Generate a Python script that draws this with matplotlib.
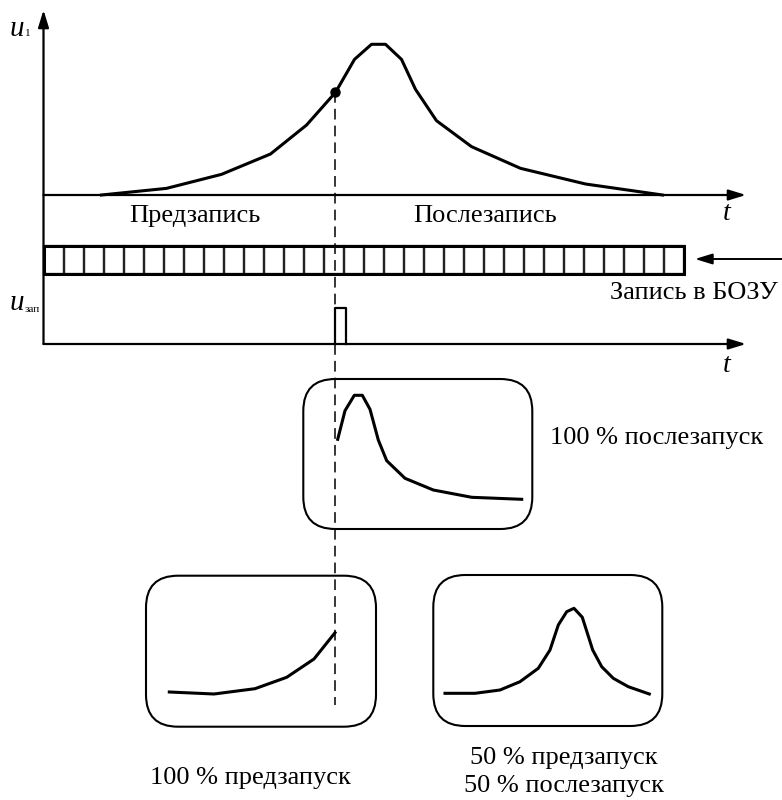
import matplotlib
matplotlib.use("Agg")
import matplotlib.pyplot as plt
from matplotlib.patches import FancyBboxPatch, Rectangle
from matplotlib.transforms import Affine2D

# ---------------- data ----------------
# main signal u1(t): t in px-units from axis origin, u normalised to peak
main_t = [58, 123, 178, 227, 263, 292, 311, 328, 342, 358, 372, 393, 428, 477, 542, 619]
main_u = [0.0, 0.044, 0.137, 0.272, 0.464, 0.681, 0.900, 1.0, 1.0, 0.900, 0.701, 0.493, 0.321, 0.177, 0.073, 0.0]
trigger_t = 291.5
trigger_u = 0.681
pulse_t = [291.5, 291.5, 302, 302]
pulse_u = [0, 1, 1, 0]
n_cells = 32

# screen panels: x from box left, y from box bottom (px units)
post_x = [34.4, 41.7, 51, 59, 66.7, 75, 83.4, 101.7, 130, 168.4, 218.4]
post_y = [89.7, 118.3, 133.7, 133.7, 119.7, 89, 68.3, 50.7, 39, 31.7, 29.7]
pre_x = [23.3, 68, 109, 140.7, 168, 189]
pre_y = [34.7, 32.7, 38, 49.4, 67.7, 94]
mid_x = [11.7, 41.7, 66.7, 86.7, 105, 116.7, 125, 133.4, 140.7, 149, 159.4, 168.4, 180, 195, 216]
mid_y = [32.7, 32.7, 36, 44.3, 57.7, 76, 101, 114.3, 117.7, 108.7, 76, 59.3, 47.7, 39.3, 32]

labels = {
    "pre_rec": "Предзапись",
    "post_rec": "Послезапись",
    "bozu": "Запись в БОЗУ",
    "post": "100 % послезапуск",
    "pre": "100 % предзапуск",
    "mid": "50 % предзапуск\n50 % послезапуск",
}

# ---------------- figure ----------------
plt.rcParams['font.family'] = ['Liberation Serif', 'DejaVu Serif']
fig = plt.figure(figsize=(7.82, 8.0), dpi=100)
ax = fig.add_axes([0, 0, 1, 1])
ax.set_xlim(0, 782)
ax.set_ylim(800, 0)
ax.axis('off')

FS = 19
X0 = 43.5
Y1 = 195
Y2 = 344
XEND = 746

def arrow(x0, y0, x1, y1, lw=1.6):
    ax.annotate('', xy=(x1, y1), xytext=(x0, y0),
                arrowprops=dict(arrowstyle='-|>,head_length=0.65,head_width=0.2',
                                mutation_scale=16, lw=lw, color='k',
                                shrinkA=0, shrinkB=0))

# axes
arrow(X0, Y2, X0, 10)
arrow(X0, Y1, XEND, Y1)
arrow(X0, Y2, XEND, Y2)

# main curve
main_tr = Affine2D().scale(1, -150.7).translate(X0, Y1) + ax.transData
ax.plot(main_t, main_u, color='k', lw=2.2, transform=main_tr)
ax.plot([trigger_t], [trigger_u], 'o', color='k', ms=6.5, transform=main_tr)

# pulse
pulse_tr = Affine2D().scale(1, -36).translate(X0, Y2) + ax.transData
ax.plot(pulse_t, pulse_u, color='k', lw=1.6, transform=pulse_tr)

# buffer cells
bx0, by0, cw, ch = 43.5, 246, 20, 28
for i in range(n_cells):
    ax.add_patch(Rectangle((bx0 + i * cw, by0), cw, ch, fill=False, ec='#222222', lw=1.6))
ax.add_patch(Rectangle((bx0, by0), n_cells * cw, ch, fill=False, ec='k', lw=2.2))
arrow(790, 259, 695, 259, lw=1.4)

# dashed trigger line
ax.plot([X0 + trigger_t, X0 + trigger_t], [Y1 - 150.7 * trigger_u, 705], color='k',
        lw=1.1, dashes=(7, 4))

# panels
def panel(left, top, w, h, xs, ys):
    ax.add_patch(FancyBboxPatch((left, top), w, h,
                                boxstyle='round,pad=0,rounding_size=32',
                                fill=False, ec='k', lw=1.5))
    tr = Affine2D().scale(1, -1).translate(left, top + h) + ax.transData
    ax.plot(xs, ys, color='k', lw=2.2, transform=tr)

panel(303.3, 379, 229, 150, post_x, post_y)
panel(146, 575.7, 230, 151, pre_x, pre_y)
panel(433.3, 575, 229, 151, mid_x, mid_y)

# texts
ax.text(195, 216, labels["pre_rec"], fontsize=FS, ha='center', va='center')
ax.text(485, 216, labels["post_rec"], fontsize=FS, ha='center', va='center')
ax.text(778, 293, labels["bozu"], fontsize=FS, ha='right', va='center')
ax.text(657, 438, labels["post"], fontsize=FS, ha='center', va='center')
ax.text(250, 778, labels["pre"], fontsize=FS, ha='center', va='center')
ax.text(564, 772, labels["mid"], fontsize=FS, ha='center', va='center', linespacing=1.3)

ax.text(727, 213, 't', fontsize=FS + 1, style='italic', ha='center', va='center')
ax.text(727, 365, 't', fontsize=FS + 1, style='italic', ha='center', va='center')

ax.text(17, 29, 'u', fontsize=FS + 2, style='italic', ha='center', va='center')
ax.text(28, 34, '1', fontsize=8, ha='center', va='center')
ax.text(17, 303, 'u', fontsize=FS + 2, style='italic', ha='center', va='center')
ax.text(32, 310, 'зап', fontsize=8, ha='center', va='center')

fig.savefig('out.png', dpi=100)
